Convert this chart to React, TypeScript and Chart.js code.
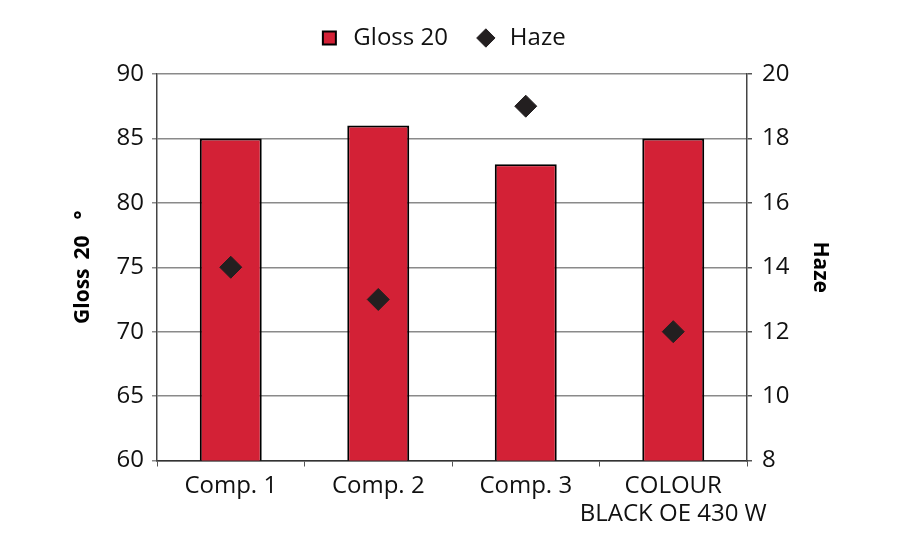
import React, { useEffect, useRef } from "react";
import { Chart, registerables } from "chart.js";

Chart.register(...registerables);

const categories: (string | string[])[] = ["Comp. 1", "Comp. 2", "Comp. 3", ["COLOUR", "BLACK OE 430 W"]];
const glossValues = [85, 86, 83, 85];
const hazeValues = [14, 13, 19, 12];
const glossTicks = { min: 60, max: 90, step: 5 };
const hazeTicks = { min: 8, max: 20, step: 2 };

const FONT = "'Open Sans', 'DejaVu Sans', sans-serif";

const legendSpacer = {
  id: "legendSpacer",
  afterInit(chart: any) {
    const legend = chart.legend;
    if (!legend) return;
    const orig = legend.fit;
    legend.fit = function () {
      orig.call(this);
      this.height += 14;
    };
  },
};

export default function App() {
  const ref = useRef<HTMLCanvasElement>(null);
  useEffect(() => {
    const ctx = ref.current!.getContext("2d")!;
    const chart = new Chart(ctx, {
      type: "bar",
      data: {
        labels: categories as any,
        datasets: [
          {
            type: "bar",
            label: "Gloss 20",
            data: glossValues,
            backgroundColor: "#d32136",
            borderColor: "#000",
            borderWidth: 2,
            borderSkipped: false,
            yAxisID: "y",
            order: 1,
            pointStyle: "rect",
            barPercentage: 0.42,
            categoryPercentage: 1,
          } as any,
          {
            type: "line",
            label: "Haze",
            data: hazeValues,
            showLine: false,
            backgroundColor: "#231f20",
            borderColor: "#231f20",
            pointStyle: "rectRot",
            pointRadius: 11,
            pointBorderWidth: 1,
            yAxisID: "y1",
            order: 0,
          } as any,
        ],
      },
      options: {
        animation: false,
        responsive: false,
        maintainAspectRatio: false,
        layout: { padding: { left: 46, right: 63, top: 0, bottom: 0 } },
        plugins: {
          legend: {
            position: "top",
            labels: {
              usePointStyle: true,
              boxHeight: 13,
              padding: 26,
              color: "#111",
              font: { family: FONT, size: 24 },
              sort: (a: any, b: any) => a.datasetIndex - b.datasetIndex,
            },
          },
          tooltip: { enabled: false },
        },
        scales: {
          x: {
            grid: {
              offset: true,
              drawOnChartArea: false,
              drawTicks: true,
              tickLength: 6,
              color: "#555",
            },
            border: { color: "#333", width: 1.5 },
            ticks: {
              color: "#111",
              padding: 6,
              maxRotation: 0,
              autoSkip: false,
              font: { family: FONT, size: 24, lineHeight: 1.15 },
            },
            afterFit: (s: any) => {
              s.height = 89.5;
            },
          },
          y: {
            position: "left",
            min: glossTicks.min,
            max: glossTicks.max,
            ticks: {
              stepSize: glossTicks.step,
              color: "#111",
              padding: 8,
              font: { family: FONT, size: 24 },
            },
            grid: { color: "#8a8a8a", lineWidth: 1.5, tickLength: 5 },
            border: { color: "#444", width: 1.5 },
            title: {
              display: true,
              text: "Gloss\u2009 20\u2002 °",
              color: "#000",
              padding: { top: 24, bottom: 4 },
              font: { family: FONT, size: 21, weight: "bold", lineHeight: 1.2 },
            },
            afterFit: (s: any) => {
              s.width = 111;
            },
          },
          y1: {
            position: "right",
            min: hazeTicks.min,
            max: hazeTicks.max,
            ticks: {
              stepSize: hazeTicks.step,
              color: "#111",
              padding: 10,
              font: { family: FONT, size: 24 },
            },
            grid: { drawOnChartArea: false, color: "#555", lineWidth: 1.5, tickLength: 5 },
            border: { color: "#444", width: 1.5 },
            title: {
              display: true,
              text: "Haze",
              color: "#000",
              padding: { top: 4, bottom: 4 },
              font: { family: FONT, size: 21, weight: "bold", lineHeight: 1.2 },
            },
            afterFit: (s: any) => {
              s.width = 90;
            },
          },
        },
      } as any,
      plugins: [legendSpacer],
    });
    return () => chart.destroy();
  }, []);
  return (
    <div style={{ position: "absolute", left: 0, top: 0, width: 900, height: 550, background: "#fff" }}>
      <canvas ref={ref} width={900} height={550} style={{ display: "block" }} />
    </div>
  );
}
